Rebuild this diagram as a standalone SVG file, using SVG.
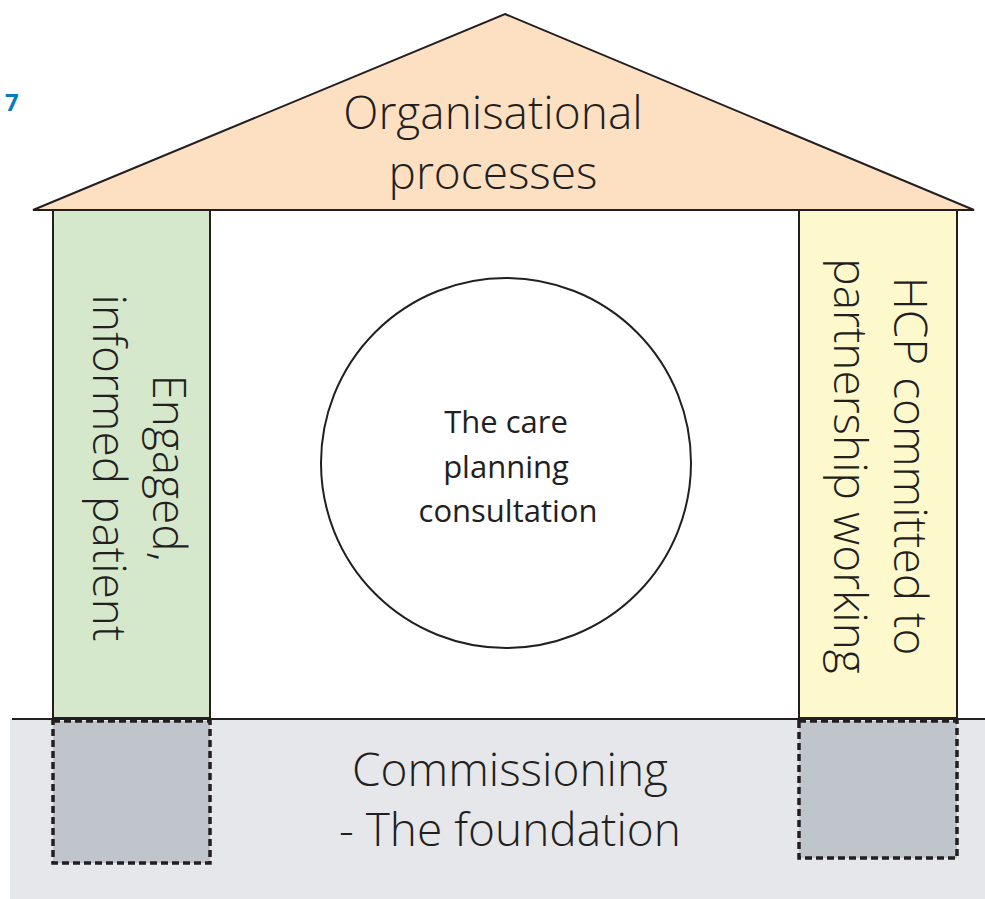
<svg xmlns="http://www.w3.org/2000/svg" width="985" height="899" viewBox="0 0 985 899">
<style>
.t{font-family:"Open Sans","Liberation Sans",sans-serif;font-weight:300;fill:#231f20;text-anchor:middle}
.big{font-size:46px}
.mid{font-size:31px;font-weight:400}
.edge{stroke:#231f20;stroke-width:2}
.dash{stroke:#231f20;stroke-width:3.5;stroke-dasharray:7,4;fill:#c0c4cb}
</style>
<rect width="985" height="899" fill="#ffffff"/>
<g id="foundation">
<rect x="10" y="719" width="975" height="180" fill="#e6e7ea"/>
<line x1="12" y1="719" x2="985" y2="719" class="edge"/>
<text class="t big" x="510" y="786">Commissioning</text>
<text class="t big" x="510" y="846">- The foundation</text>
</g>
<g id="footing-left"><rect x="53" y="721" width="157" height="142" class="dash"/></g>
<g id="footing-right"><rect x="799" y="721" width="158" height="137" class="dash"/></g>
<g id="roof">
<polygon points="505,14 974,210 33,210" fill="#fde0c2" class="edge"/>
<text class="t big" x="493" y="129">Organisational</text>
<text class="t big" x="493" y="189">processes</text>
</g>
<g id="pillar-left">
<rect x="53" y="210" width="157" height="508" fill="#d5e8cc" class="edge"/>
<g transform="translate(132,468) rotate(90)">
<text class="t big" x="0" y="-21">Engaged,</text>
<text class="t big" x="0" y="39">informed patient</text>
</g>
</g>
<g id="pillar-right">
<rect x="799" y="210" width="158" height="508" fill="#fef9cc" class="edge"/>
<g transform="translate(878,466) rotate(90)">
<text class="t big" x="0" y="-16">HCP committed to</text>
<text class="t big" x="0" y="44">partnership working</text>
</g>
</g>
<g id="circle">
<circle cx="506" cy="463" r="185" fill="#ffffff" class="edge"/>
<text class="t mid" x="506" y="433">The care</text>
<text class="t mid" x="506" y="478">planning</text>
<text class="t mid" x="508" y="522">consultation</text>
</g>
<g id="label"><text x="5" y="111" style="font-family:'Open Sans','Liberation Sans',sans-serif;font-weight:700;font-size:24px;fill:#0a7bc1">7</text></g>
<g id="connectors"/>
</svg>
